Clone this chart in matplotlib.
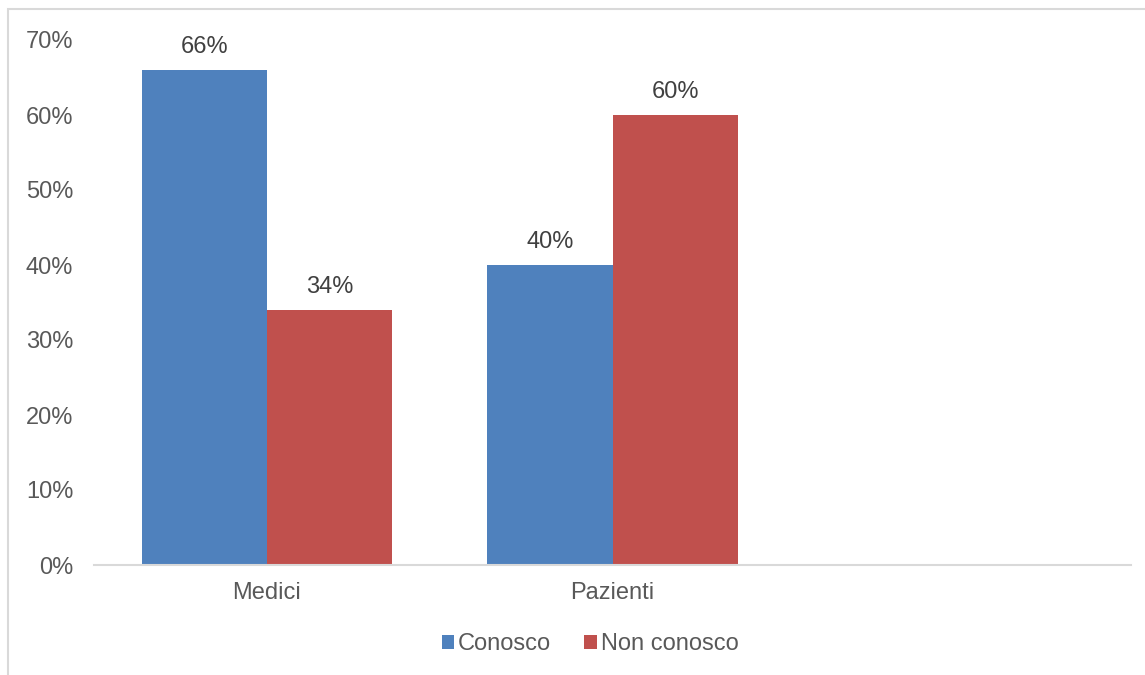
import numpy as np
import matplotlib.pyplot as plt
from matplotlib.patches import Rectangle

categories = ['Medici', 'Pazienti', '']
conosco = [0.66, 0.40, np.nan]
non_conosco = [0.34, 0.60, np.nan]
series_names = ['Conosco', 'Non conosco']
yticks = [0, 0.1, 0.2, 0.3, 0.4, 0.5, 0.6, 0.7]

plt.rcParams['font.family'] = ['Liberation Sans', 'DejaVu Sans']
text_col = '#595959'
label_col = '#404040'
blue = '#4F81BD'
red = '#C0504D'

W, H = 1145, 675
fig = plt.figure(figsize=(W / 100, H / 100), dpi=100)
ax = fig.add_axes([94 / W, 1 - 565 / H, (1131 - 94) / W, (565 - 40) / H])

# outer chart frame
fig.patches.append(Rectangle((8 / W, -0.1), 1.2, 1.1 - 9 / H, transform=fig.transFigure,
                             fill=False, edgecolor='#D9D9D9', linewidth=1.5))

x = np.arange(len(categories))
bw = 0.362
b1 = ax.bar(x - bw / 2, conosco, bw, color=blue, label=series_names[0])
b2 = ax.bar(x + bw / 2, non_conosco, bw, color=red, label=series_names[1])

for bars, vals in ((b1, conosco), (b2, non_conosco)):
    for rect, v in zip(bars, vals):
        if np.isnan(v):
            continue
        ax.annotate('{:.0f}%'.format(v * 100), (rect.get_x() + rect.get_width() / 2, v),
                    xytext=(0, 8.5), textcoords='offset points', ha='center', va='bottom',
                    fontsize=17, color=label_col)

ax.set_xlim(-0.5, len(categories) - 0.5)
ax.set_ylim(0, 0.7)
ax.set_yticks(yticks)
ax.set_yticklabels(['{:.0f}%'.format(t * 100) for t in yticks])
ax.set_xticks(x)
ax.set_xticklabels(categories)
ax.tick_params(axis='both', length=0, labelsize=17, labelcolor=text_col)
ax.tick_params(axis='y', pad=15)
ax.tick_params(axis='x', pad=12)
for s in ['top', 'right', 'left']:
    ax.spines[s].set_visible(False)
ax.spines['bottom'].set_color('#D9D9D9')
ax.spines['bottom'].set_linewidth(1.5)

leg = fig.legend(handles=[b1, b2], labels=series_names, loc='center',
                 bbox_to_anchor=(590 / W, 1 - 644 / H), ncol=2, frameon=False,
                 fontsize=17, handlelength=0.55, handleheight=0.55, handletextpad=0.15,
                 columnspacing=1.4)
for t in leg.get_texts():
    t.set_color(text_col)

plt.savefig('out.png', dpi=100)
